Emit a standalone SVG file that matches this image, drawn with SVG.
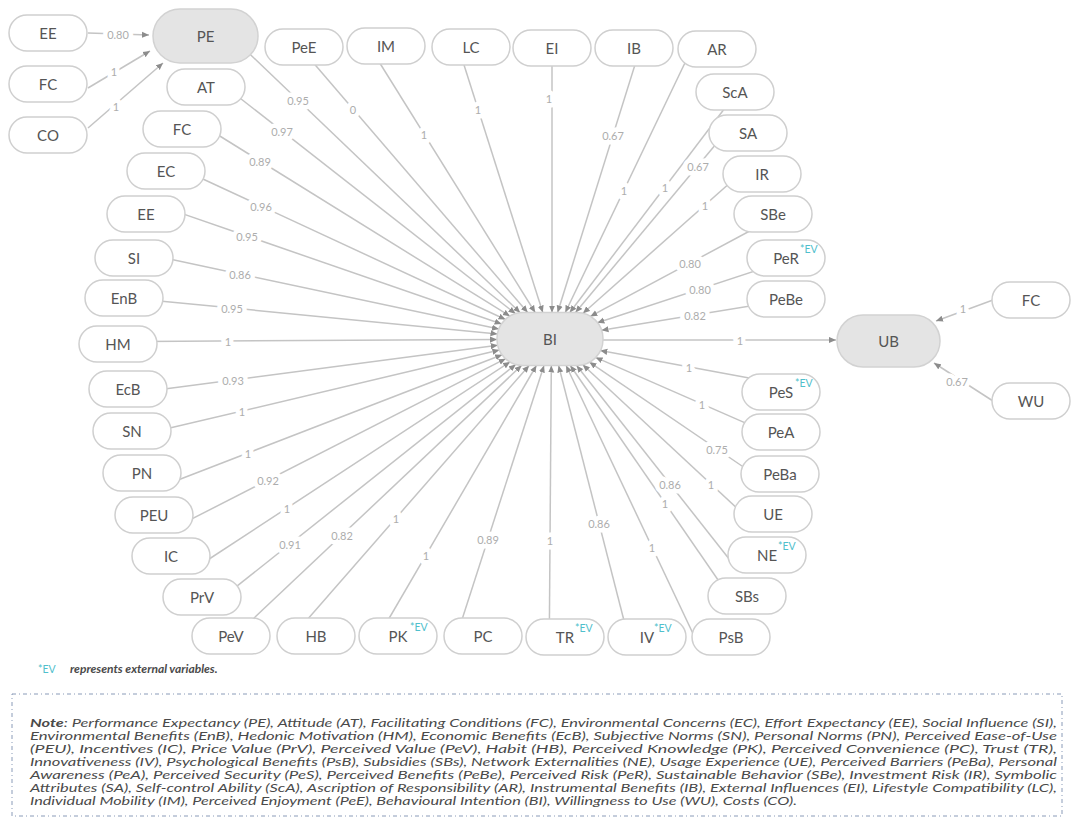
<svg xmlns="http://www.w3.org/2000/svg" width="1073" height="825" viewBox="0 0 1073 825">
<defs>
<marker id="arr" viewBox="0 0 8 8" refX="8" refY="4" markerWidth="7" markerHeight="7" markerUnits="userSpaceOnUse" orient="auto"><path d="M0,0.5 L8,4 L0,7.5 z" fill="#8c8c8c"/></marker>
<style>
.node rect{fill:#fff;stroke:#cfcfcf;stroke-width:1.5}
.core rect{fill:#e4e4e4;stroke:#d2d2d2}
.node text{font-family:Lato,"Noto Sans",sans-serif;font-size:15px;fill:#555;text-anchor:middle;dominant-baseline:central}
.node text.ev,.ev{font-family:Lato,"Noto Sans",sans-serif;font-size:10.5px;fill:#4fc0cc;text-anchor:start;dominant-baseline:central}
.edge{stroke:#c4c4c4;stroke-width:1.5;fill:none;marker-end:url(#arr)}
.lbl{font-family:Lato,"Noto Sans",sans-serif;font-size:11px;fill:#adadad;text-anchor:middle;dominant-baseline:central;stroke:#fff;stroke-width:9;stroke-linejoin:round;paint-order:stroke}
.note{font-family:Lato,"Noto Sans",sans-serif;font-size:12px;font-style:italic;fill:#4a4a4a}
</style>
</defs>
<rect width="1073" height="825" fill="#fff"/>

<g id="connectors">
<line class="edge" x1="88" y1="33" x2="149" y2="35"/>
<line class="edge" x1="88" y1="88" x2="150" y2="51"/>
<line class="edge" x1="88" y1="128" x2="163" y2="63"/>
<line class="edge" x1="231" y1="36" x2="520.2" y2="312.7"/>
<line class="edge" x1="299.8" y1="47" x2="527.7" y2="312.5"/>
<line class="edge" x1="225.8" y1="87" x2="515.5" y2="313.7"/>
<line class="edge" x1="208.5" y1="129" x2="510" y2="316.2"/>
<line class="edge" x1="185.6" y1="171" x2="505.5" y2="319.5"/>
<line class="edge" x1="175" y1="211.1" x2="501.6" y2="324"/>
<line class="edge" x1="159" y1="256.8" x2="498.9" y2="329.1"/>
<line class="edge" x1="149" y1="299.9" x2="497.5" y2="333.9"/>
<line class="edge" x1="143" y1="341.4" x2="497" y2="339.6"/>
<line class="edge" x1="153" y1="390.5" x2="497.7" y2="345.2"/>
<line class="edge" x1="157" y1="431.1" x2="499.4" y2="350.1"/>
<line class="edge" x1="167" y1="484.3" x2="502.2" y2="354.7"/>
<line class="edge" x1="185" y1="522.4" x2="505.7" y2="358.7"/>
<line class="edge" x1="200" y1="565" x2="510.1" y2="361.9"/>
<line class="edge" x1="230" y1="591.7" x2="515.8" y2="364.4"/>
<line class="edge" x1="235" y1="636" x2="521.6" y2="365.4"/>
<line class="edge" x1="293" y1="636" x2="529.1" y2="365.5"/>
<line class="edge" x1="378.8" y1="636" x2="536.4" y2="365.5"/>
<line class="edge" x1="456.7" y1="636" x2="544" y2="365.5"/>
<line class="edge" x1="549.3" y1="637" x2="551.3" y2="365.5"/>
<line class="edge" x1="628.2" y1="637" x2="558.6" y2="365.5"/>
<line class="edge" x1="696.5" y1="641" x2="566.1" y2="365.5"/>
<line class="edge" x1="729.1" y1="596" x2="570.3" y2="365.5"/>
<line class="edge" x1="731.5" y1="562" x2="576.6" y2="365.5"/>
<line class="edge" x1="743.2" y1="514" x2="582.8" y2="364.7"/>
<line class="edge" x1="753.7" y1="474" x2="589.4" y2="362.1"/>
<line class="edge" x1="760" y1="429.4" x2="595.6" y2="357.4"/>
<line class="edge" x1="760" y1="380.1" x2="600.3" y2="350.6"/>
<line class="edge" x1="765" y1="303.5" x2="601.5" y2="330.3"/>
<line class="edge" x1="765" y1="267.7" x2="597.4" y2="322.7"/>
<line class="edge" x1="760" y1="225.5" x2="590.3" y2="316.4"/>
<line class="edge" x1="737.7" y1="176" x2="583" y2="313.3"/>
<line class="edge" x1="722.7" y1="136" x2="575.5" y2="312.5"/>
<line class="edge" x1="731" y1="100" x2="569.8" y2="312.5"/>
<line class="edge" x1="691.6" y1="49" x2="565.3" y2="312.5"/>
<line class="edge" x1="640.2" y1="48" x2="557.6" y2="312.5"/>
<line class="edge" x1="552" y1="48" x2="552" y2="312.5"/>
<line class="edge" x1="458.3" y1="47" x2="542.8" y2="312.5"/>
<line class="edge" x1="369.2" y1="46" x2="535.2" y2="312.5"/>
<line class="edge" x1="603" y1="340" x2="836" y2="340"/>
<line class="edge" x1="993" y1="300" x2="936" y2="321"/>
<line class="edge" x1="993" y1="401" x2="934" y2="363"/>
<text class="lbl" x="118" y="34">0.80</text>
<text class="lbl" x="114" y="71">1</text>
<text class="lbl" x="116" y="106">1</text>
<text class="lbl" x="298" y="100">0.95</text>
<text class="lbl" x="353" y="109">0</text>
<text class="lbl" x="282" y="131">0.97</text>
<text class="lbl" x="260" y="161">0.89</text>
<text class="lbl" x="261" y="206">0.96</text>
<text class="lbl" x="247" y="236">0.95</text>
<text class="lbl" x="240" y="274">0.86</text>
<text class="lbl" x="232" y="308">0.95</text>
<text class="lbl" x="228" y="341">1</text>
<text class="lbl" x="233" y="380">0.93</text>
<text class="lbl" x="242" y="411">1</text>
<text class="lbl" x="248" y="453">1</text>
<text class="lbl" x="268" y="480">0.92</text>
<text class="lbl" x="287" y="508">1</text>
<text class="lbl" x="290" y="544">0.91</text>
<text class="lbl" x="342" y="535">0.82</text>
<text class="lbl" x="396" y="518">1</text>
<text class="lbl" x="426" y="555">1</text>
<text class="lbl" x="488" y="539">0.89</text>
<text class="lbl" x="550" y="540">1</text>
<text class="lbl" x="599" y="523">0.86</text>
<text class="lbl" x="652" y="547">1</text>
<text class="lbl" x="665" y="503">1</text>
<text class="lbl" x="670" y="484">0.86</text>
<text class="lbl" x="711" y="484">1</text>
<text class="lbl" x="717" y="449">0.75</text>
<text class="lbl" x="702" y="404">1</text>
<text class="lbl" x="689" y="367">1</text>
<text class="lbl" x="695" y="315">0.82</text>
<text class="lbl" x="700" y="289">0.80</text>
<text class="lbl" x="690" y="263">0.80</text>
<text class="lbl" x="705" y="205">1</text>
<text class="lbl" x="698" y="166">0.67</text>
<text class="lbl" x="665" y="187">1</text>
<text class="lbl" x="624" y="190">1</text>
<text class="lbl" x="613" y="135">0.67</text>
<text class="lbl" x="549" y="98">1</text>
<text class="lbl" x="478" y="109">1</text>
<text class="lbl" x="424" y="134">1</text>
<text class="lbl" x="740" y="340">1</text>
<text class="lbl" x="963" y="308">1</text>
<text class="lbl" x="957" y="381">0.67</text>
</g>

<g id="n-EE1" class="node"><rect x="9" y="15" width="78" height="36" rx="18"/><text x="48" y="33">EE</text></g>
<g id="n-FC1" class="node"><rect x="9" y="66" width="78" height="36" rx="18"/><text x="48" y="84">FC</text></g>
<g id="n-CO" class="node"><rect x="9" y="117" width="78" height="36" rx="18"/><text x="48" y="135">CO</text></g>
<g id="n-PE" class="node core"><rect x="153" y="9" width="105" height="54" rx="27"/><text x="205.5" y="36">PE</text></g>
<g id="n-AT" class="node"><rect x="167" y="69" width="78" height="36" rx="18"/><text x="206" y="87">AT</text></g>
<g id="n-FC2" class="node"><rect x="143" y="111" width="78" height="36" rx="18"/><text x="182" y="129">FC</text></g>
<g id="n-EC" class="node"><rect x="127" y="153" width="78" height="36" rx="18"/><text x="166" y="171">EC</text></g>
<g id="n-EE2" class="node"><rect x="107" y="196" width="78" height="36" rx="18"/><text x="146" y="214">EE</text></g>
<g id="n-SI" class="node"><rect x="95" y="240" width="78" height="36" rx="18"/><text x="134" y="258">SI</text></g>
<g id="n-EnB" class="node"><rect x="85" y="280" width="78" height="36" rx="18"/><text x="124" y="298">EnB</text></g>
<g id="n-HM" class="node"><rect x="79" y="326" width="78" height="36" rx="18"/><text x="118" y="344">HM</text></g>
<g id="n-EcB" class="node"><rect x="89" y="371" width="78" height="36" rx="18"/><text x="128" y="389">EcB</text></g>
<g id="n-SN" class="node"><rect x="93" y="413" width="78" height="36" rx="18"/><text x="132" y="431">SN</text></g>
<g id="n-PN" class="node"><rect x="103" y="455" width="78" height="36" rx="18"/><text x="142" y="473">PN</text></g>
<g id="n-PEU" class="node"><rect x="115" y="497" width="78" height="36" rx="18"/><text x="154" y="515">PEU</text></g>
<g id="n-IC" class="node"><rect x="132" y="538" width="78" height="36" rx="18"/><text x="171" y="556">IC</text></g>
<g id="n-PrV" class="node"><rect x="163" y="579" width="78" height="36" rx="18"/><text x="202" y="597">PrV</text></g>
<g id="n-PeV" class="node"><rect x="192" y="618" width="78" height="36" rx="18"/><text x="231" y="636">PeV</text></g>
<g id="n-HB" class="node"><rect x="277" y="618" width="78" height="36" rx="18"/><text x="316" y="636">HB</text></g>
<g id="n-PK" class="node"><rect x="359" y="618" width="78" height="36" rx="18"/><text x="398" y="636">PK</text><text class="ev" x="410" y="627">*EV</text></g>
<g id="n-PC" class="node"><rect x="444" y="618" width="78" height="36" rx="18"/><text x="483" y="636">PC</text></g>
<g id="n-TR" class="node"><rect x="526" y="619" width="78" height="36" rx="18"/><text x="565" y="637">TR</text><text class="ev" x="575" y="628">*EV</text></g>
<g id="n-IV" class="node"><rect x="608" y="619" width="78" height="36" rx="18"/><text x="647" y="637">IV</text><text class="ev" x="654" y="628">*EV</text></g>
<g id="n-PsB" class="node"><rect x="692" y="619" width="78" height="36" rx="18"/><text x="731" y="637">PsB</text></g>
<g id="n-SBs" class="node"><rect x="708" y="578" width="78" height="36" rx="18"/><text x="747" y="596">SBs</text></g>
<g id="n-NE" class="node"><rect x="728" y="537" width="78" height="36" rx="18"/><text x="767" y="555">NE</text><text class="ev" x="778" y="546">*EV</text></g>
<g id="n-UE" class="node"><rect x="734" y="496" width="78" height="36" rx="18"/><text x="773" y="514">UE</text></g>
<g id="n-PeBa" class="node"><rect x="741" y="456" width="78" height="36" rx="18"/><text x="780" y="474">PeBa</text></g>
<g id="n-PeA" class="node"><rect x="742" y="414" width="78" height="36" rx="18"/><text x="781" y="432">PeA</text></g>
<g id="n-PeS" class="node"><rect x="742" y="374" width="78" height="36" rx="18"/><text x="781" y="392">PeS</text><text class="ev" x="795" y="383">*EV</text></g>
<g id="n-PeBe" class="node"><rect x="747" y="281" width="78" height="36" rx="18"/><text x="786" y="299">PeBe</text></g>
<g id="n-PeR" class="node"><rect x="747" y="240" width="78" height="36" rx="18"/><text x="786" y="258">PeR</text><text class="ev" x="800" y="249">*EV</text></g>
<g id="n-SBe" class="node"><rect x="734" y="196" width="78" height="36" rx="18"/><text x="773" y="214">SBe</text></g>
<g id="n-IR" class="node"><rect x="723" y="156" width="78" height="36" rx="18"/><text x="762" y="174">IR</text></g>
<g id="n-SA" class="node"><rect x="709" y="115" width="78" height="36" rx="18"/><text x="748" y="133">SA</text></g>
<g id="n-ScA" class="node"><rect x="696" y="74" width="78" height="36" rx="18"/><text x="735" y="92">ScA</text></g>
<g id="n-AR" class="node"><rect x="678" y="31" width="78" height="36" rx="18"/><text x="717" y="49">AR</text></g>
<g id="n-IB" class="node"><rect x="595" y="30" width="78" height="36" rx="18"/><text x="634" y="48">IB</text></g>
<g id="n-EI" class="node"><rect x="513" y="30" width="78" height="36" rx="18"/><text x="552" y="48">EI</text></g>
<g id="n-LC" class="node"><rect x="432" y="29" width="78" height="36" rx="18"/><text x="471" y="47">LC</text></g>
<g id="n-IM" class="node"><rect x="347" y="28" width="78" height="36" rx="18"/><text x="386" y="46">IM</text></g>
<g id="n-PeE" class="node"><rect x="265" y="29" width="78" height="36" rx="18"/><text x="304" y="47">PeE</text></g>
<g id="n-BI" class="node core"><rect x="497" y="312.5" width="106" height="53" rx="26"/><text x="550" y="339">BI</text></g>
<g id="n-UB" class="node core"><rect x="837" y="315" width="103" height="52" rx="26"/><text x="888.5" y="341">UB</text></g>
<g id="n-FC3" class="node"><rect x="992" y="282" width="78" height="36" rx="18"/><text x="1031" y="300">FC</text></g>
<g id="n-WU" class="node"><rect x="992" y="383" width="78" height="36" rx="18"/><text x="1031" y="401">WU</text></g>

<g id="legend">
<text class="ev" x="38" y="669" font-size="10">*EV</text>
<text class="note" x="70" y="673" font-size="10.5" font-weight="bold">represents external variables.</text>
</g>

<g id="note">
<rect x="12" y="694" width="1050" height="122" fill="none" stroke="#8a9bb8" stroke-width="1" stroke-dasharray="4 3 1 3"/>
<text class="note" x="30" y="727" textLength="1027" lengthAdjust="spacingAndGlyphs"><tspan font-weight="bold">Note</tspan>: Performance Expectancy (PE), Attitude (AT), Facilitating Conditions (FC), Environmental Concerns (EC), Effort Expectancy (EE), Social Influence (SI),</text>
<text class="note" x="30" y="740" textLength="1027" lengthAdjust="spacingAndGlyphs">Environmental Benefits (EnB), Hedonic Motivation (HM), Economic Benefits (EcB), Subjective Norms (SN), Personal Norms (PN), Perceived Ease-of-Use</text>
<text class="note" x="30" y="753" textLength="1027" lengthAdjust="spacingAndGlyphs">(PEU), Incentives (IC), Price Value (PrV), Perceived Value (PeV), Habit (HB), Perceived Knowledge (PK), Perceived Convenience (PC), Trust (TR),</text>
<text class="note" x="30" y="766" textLength="1027" lengthAdjust="spacingAndGlyphs">Innovativeness (IV), Psychological Benefits (PsB), Subsidies (SBs), Network Externalities (NE), Usage Experience (UE), Perceived Barriers  (PeBa), Personal</text>
<text class="note" x="30" y="779" textLength="1027" lengthAdjust="spacingAndGlyphs">Awareness (PeA), Perceived Security (PeS), Perceived Benefits (PeBe), Perceived Risk (PeR), Sustainable Behavior (SBe), Investment Risk (IR), Symbolic</text>
<text class="note" x="30" y="792" textLength="1027" lengthAdjust="spacingAndGlyphs">Attributes (SA), Self-control Ability (ScA), Ascription of Responsibility (AR), Instrumental Benefits (IB), External Influences (EI), Lifestyle Compatibility (LC),</text>
<text class="note" x="30" y="805" textLength="767" lengthAdjust="spacingAndGlyphs">Individual Mobility (IM), Perceived Enjoyment (PeE), Behavioural Intention (BI), Willingness to Use (WU), Costs (CO).</text>
</g>
</svg>
